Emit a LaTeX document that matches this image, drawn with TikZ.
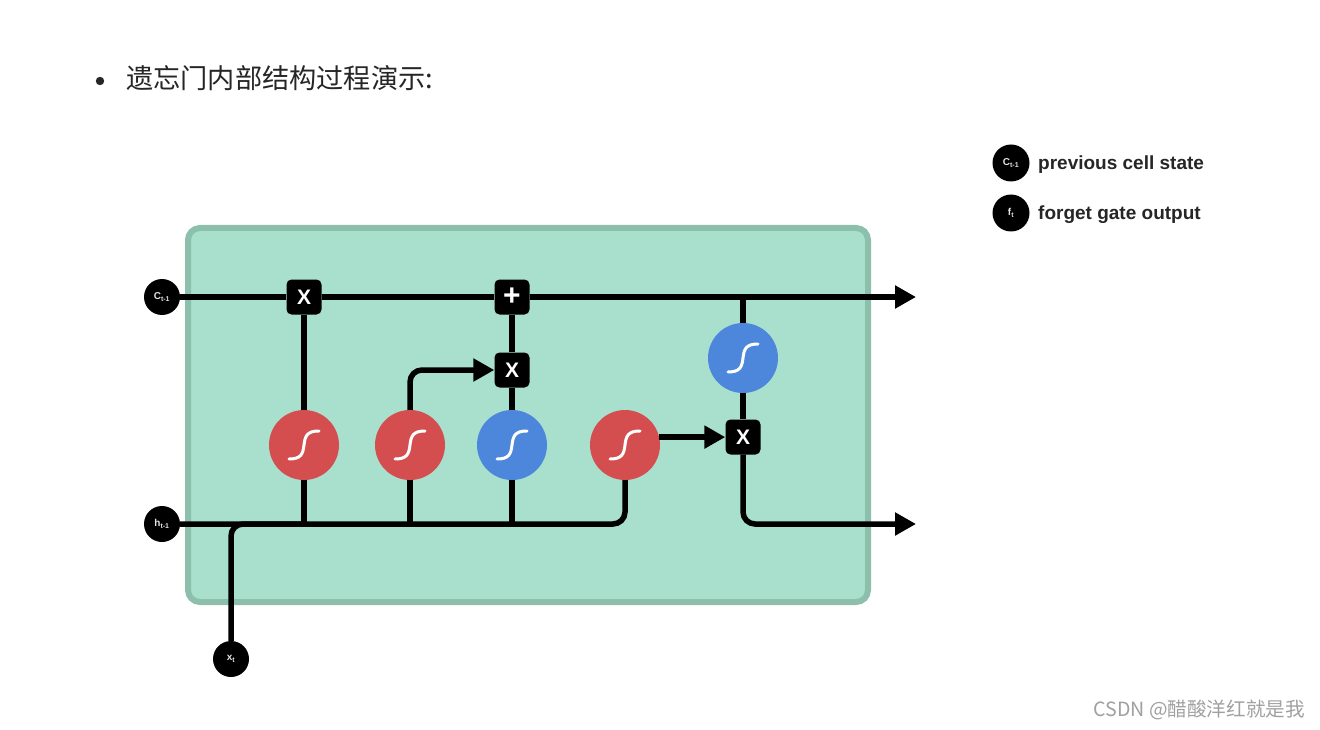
\documentclass[tikz,border=0pt]{standalone}
\usepackage{fontspec}
\newfontfamily\cjk{Noto Sans CJK SC}
\newfontfamily\legendfont{Liberation Sans}
\usetikzlibrary{arrows.meta}
\definecolor{cellfill}{RGB}{168,223,205}
\definecolor{celledge}{RGB}{140,192,172}
\definecolor{sigred}{RGB}{212,78,80}
\definecolor{sigblue}{RGB}{77,135,219}
\definecolor{wmgray}{RGB}{160,160,160}
\tikzset{
  wire/.style={line width=5.5pt, draw=black, rounded corners=12pt},
  arr/.style={wire, -{Triangle[length=21pt,width=22pt]}},
  opbox/.style={fill=black, rounded corners=5pt, minimum size=35pt, inner sep=0pt,
    text=white, font=\legendfont\bfseries\fontsize{21}{21}\selectfont},
  sig/.style={circle, minimum size=70pt, inner sep=0pt, fill=#1,
    path picture={\draw[white, line width=3pt, line cap=round]
      ([shift={(-15,14)}]path picture bounding box.center)
      .. controls +(12,0) and +(-1,9) .. (path picture bounding box.center)
      .. controls +(1,-9) and +(-12,0) .. ([shift={(15,-14)}]path picture bounding box.center);}},
  term/.style={circle, fill=black, minimum size=36pt, inner sep=0pt, text=white!90!black,
    font=\legendfont\bfseries\fontsize{10}{10}\selectfont},
  legendtext/.style={anchor=base west, inner sep=0pt, text=black!85,
    font=\legendfont\bfseries\fontsize{19}{20}\selectfont},
}
\begin{document}
\begin{tikzpicture}[x=1pt, y=-1pt]
\useasboundingbox[fill=white] (0,0) rectangle (1320,730);
% heading
\fill[black!85] (100,81) circle (4.2);
\node[anchor=west, inner sep=0pt, font=\cjk\fontsize{27.2}{30}\selectfont, text=black!85] (head) at (126,78) {遗忘门内部结构过程演示:};
% cell
\draw[line width=6pt, draw=celledge, fill=cellfill, rounded corners=12pt] (188,228) rectangle (868,602);
% terminals
\node[term] (c) at (162,297) {C\textsubscript{t-1}};
\node[term] (h) at (162,524) {h\textsubscript{t-1}};
\node[term] (x) at (231,659) {x\textsubscript{t}};
% operators
\node[opbox] (xf) at (304,297) {X};
\node[opbox, font=\legendfont\bfseries\fontsize{30}{30}\selectfont] (plus) at (512,297) {+};
\node[opbox] (xi) at (512,370) {X};
\node[opbox] (xo) at (743,437) {X};
% sigmoid / tanh layers
\node[sig=sigred] (s1) at (304,445) {};
\node[sig=sigred] (s2) at (410,445) {};
\node[sig=sigblue] (t1) at (512,445) {};
\node[sig=sigred] (s3) at (625,445) {};
\node[sig=sigblue] (t2) at (743,358) {};
% helper coordinates
\coordinate (j1) at (304,524);
\coordinate (j2) at (410,524);
\coordinate (j3) at (512,524);
\coordinate (jt) at (743,297);
\coordinate (outc) at (916,297);
\coordinate (outh) at (916,524);
% cell state line
\draw[wire] (c) -- (xf);
\draw[wire] (xf) -- (plus);
\draw[arr] (plus) -- (outc);
% hidden input line
\draw[wire] (h.east) -- (j1) -- (j2) -- (j3) -| (s3);
\draw[wire] (x) |- (j1);
% gates
\draw[wire] (j1) -- (s1);
\draw[wire] (s1) -- (xf);
\draw[wire] (j2) -- (s2);
\draw[arr] (s2) |- (xi);
\draw[wire] (j3) -- (t1);
\draw[wire] (t1) -- (xi);
\draw[wire] (xi) -- (plus);
\draw[arr] (s3.13) -- (s3.13 -| xo.west);
\draw[wire] (jt) -- (t2);
\draw[wire] (t2) -- (xo);
\draw[arr] (xo) |- (outh);
% legend
\node[term, minimum size=37pt] (lc) at (1011,163) {C\textsubscript{t-1}};
\node[legendtext] (lct) at (1038,169.5) {previous cell state};
\node[term, minimum size=37pt] (lf) at (1011,213) {f\textsubscript{t}};
\node[legendtext] (lft) at (1038,219.5) {forget gate output};
% watermark
\node[anchor=east, inner sep=0pt, font=\cjk\fontsize{19.6}{21}\selectfont, text=wmgray] (wm) at (1305,710) {CSDN @醋酸洋红就是我};
\end{tikzpicture}
\end{document}
